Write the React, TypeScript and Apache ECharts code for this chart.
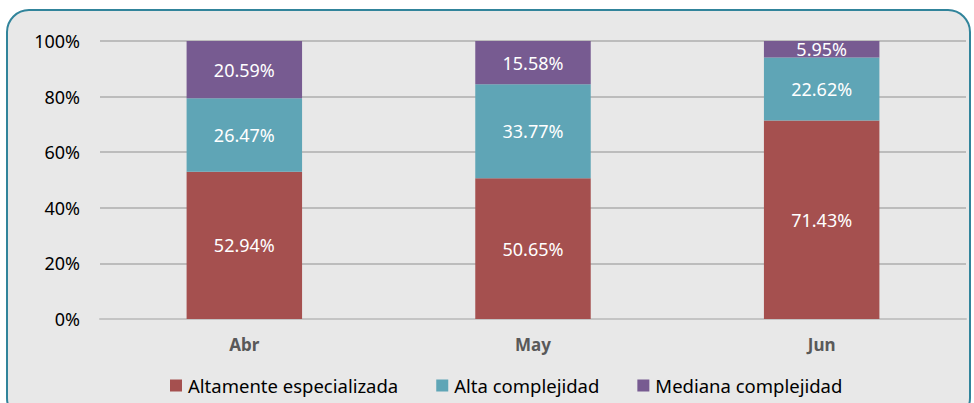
import React, { useEffect, useRef } from "react";
import * as echarts from "echarts";

const categories = ["Abr", "May", "Jun"];
const altamenteEspecializada = [52.94, 50.65, 71.43];
const altaComplejidad = [26.47, 33.77, 22.62];
const medianaComplejidad = [20.59, 15.58, 5.95];
const seriesNames = ["Altamente especializada", "Alta complejidad", "Mediana complejidad"];
const colors = ["#a5504f", "#5fa5b6", "#775b91"];

const FONT = "'Noto Sans', 'Open Sans', sans-serif";

export default function App() {
  const ref = useRef<HTMLDivElement>(null);
  useEffect(() => {
    if (!ref.current) return;
    const chart = echarts.init(ref.current, undefined, { renderer: "svg" });
    const label = {
      show: true,
      position: "inside" as const,
      color: "#ffffff",
      fontSize: 18,
      fontFamily: FONT,
      formatter: (p: any) => p.value.toFixed(2) + "%",
    };
    const datas = [altamenteEspecializada, altaComplejidad, medianaComplejidad];
    chart.setOption({
      animation: false,
      color: colors,
      graphic: [
        {
          type: "rect",
          z: -10,
          silent: true,
          shape: { x: 7, y: 10, width: 963, height: 410, r: 22 },
          style: { fill: "#e8e8e8", stroke: "#31849b", lineWidth: 2 },
        },
      ],
      grid: { left: 100, right: 8, top: 41, bottom: 84 },
      xAxis: {
        type: "category",
        data: categories,
        axisLine: { show: true, lineStyle: { color: "#c4c4c4", width: 2 } },
        axisTick: { show: false },
        axisLabel: {
          color: "#595959",
          fontWeight: "bold",
          fontSize: 17,
          fontFamily: FONT,
          margin: 17,
        },
      },
      yAxis: {
        type: "value",
        min: 0,
        max: 100,
        interval: 20,
        axisLine: { show: false },
        axisTick: { show: false },
        splitLine: { lineStyle: { color: "#bcbcbc", width: 2 } },
        axisLabel: {
          color: "#000000",
          fontSize: 18,
          fontFamily: FONT,
          margin: 20,
          formatter: (v: number) => v + "%",
        },
      },
      legend: {
        bottom: 3,
        left: 165,
        itemWidth: 12,
        itemHeight: 12,
        itemGap: 38,
        icon: "rect",
        textStyle: { color: "#000000", fontSize: 18.5, fontFamily: FONT, padding: [0, 0, 0, 1] },
        data: seriesNames,
      },
      series: seriesNames.map((name, i) => ({
        name,
        type: "bar",
        stack: "total",
        barWidth: "40%",
        data: datas[i],
        label,
      })),
    });
    return () => chart.dispose();
  }, []);
  return (
    <div
      ref={ref}
      style={{ position: "fixed", left: 0, top: 0, width: 974, height: 403, background: "#ffffff" }}
    />
  );
}
